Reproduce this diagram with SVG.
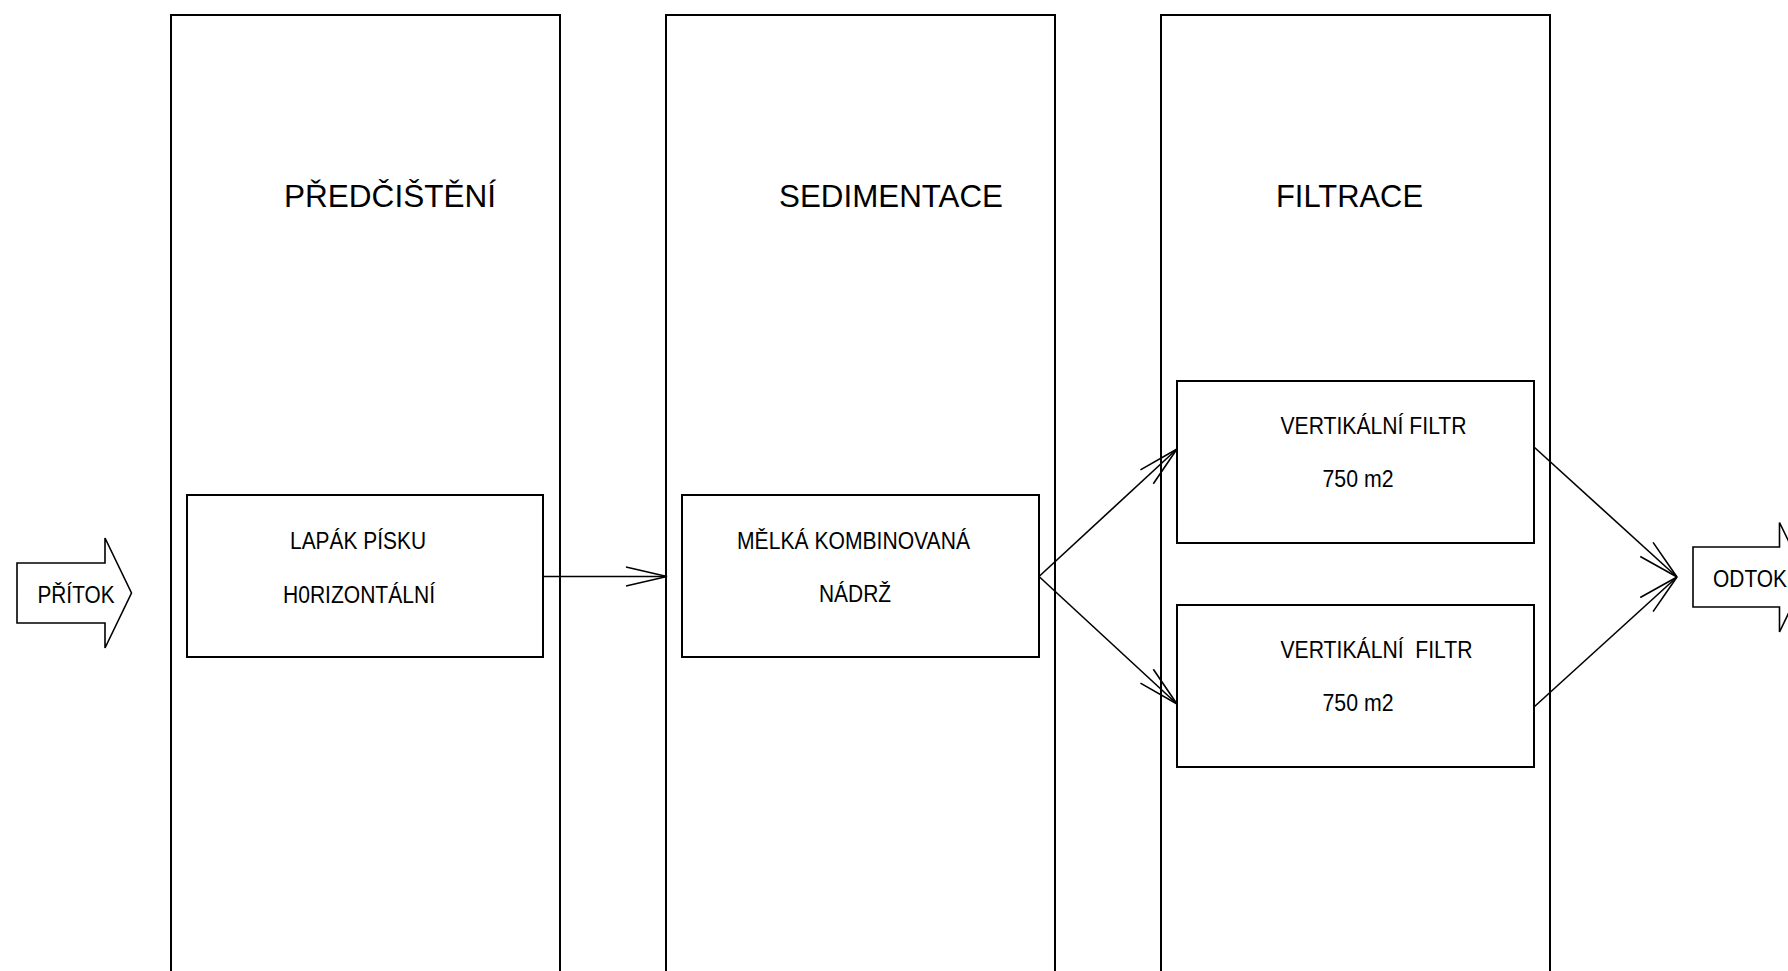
<svg xmlns="http://www.w3.org/2000/svg" width="1788" height="971" viewBox="0 0 1788 971">
<style>
.col{fill:none;stroke:#000;stroke-width:2}
.box{fill:#fff;stroke:#000;stroke-width:2}
.con{fill:none;stroke:#000;stroke-width:1.6}
.big{fill:none;stroke:#000;stroke-width:1.6}
.h{font-family:"Liberation Sans",Arial,sans-serif;font-size:31px;fill:#000}
.t{font-family:"Liberation Sans",Arial,sans-serif;font-size:24.5px;fill:#000}
</style>
<defs>
<marker id="ah" markerUnits="userSpaceOnUse" markerWidth="60" markerHeight="60" viewBox="-50 -25 60 50" refX="0" refY="0" orient="auto" overflow="visible">
<path d="M-41,-9.5 L0,0 L-41,9.5" fill="none" stroke="#000" stroke-width="1.6"/>
</marker>
</defs>
<rect width="1788" height="971" fill="#fff"/>
<g id="col-predcisteni">
<path class="col" d="M171,980 V15 H560 V980"/>
<text class="h" x="284" y="207" textLength="212" lengthAdjust="spacingAndGlyphs">PŘEDČIŠTĚNÍ</text>
</g>
<g id="col-sedimentace">
<path class="col" d="M666,980 V15 H1055 V980"/>
<text class="h" x="779" y="207" textLength="224" lengthAdjust="spacingAndGlyphs">SEDIMENTACE</text>
</g>
<g id="col-filtrace">
<path class="col" d="M1161,980 V15 H1550 V980"/>
<text class="h" x="1276" y="207" textLength="147" lengthAdjust="spacingAndGlyphs">FILTRACE</text>
</g>
<g id="pritok">
<path class="big" d="M17,563 H105 V538 L131.5,593 L105,648 V623 H17 Z"/>
<text class="t" x="37.5" y="603" textLength="77" lengthAdjust="spacingAndGlyphs">PŘÍTOK</text>
</g>
<g id="lapak">
<rect class="box" x="187" y="495" width="356" height="162"/>
<text class="t" x="290" y="549" textLength="136" lengthAdjust="spacingAndGlyphs">LAPÁK PÍSKU</text>
<text class="t" x="283" y="603" textLength="152" lengthAdjust="spacingAndGlyphs">H0RIZONTÁLNÍ</text>
</g>
<g id="nadrz">
<rect class="box" x="682" y="495" width="357" height="162"/>
<text class="t" x="737" y="549" textLength="233" lengthAdjust="spacingAndGlyphs">MĚLKÁ KOMBINOVANÁ</text>
<text class="t" x="819" y="602" textLength="72" lengthAdjust="spacingAndGlyphs">NÁDRŽ</text>
</g>
<g id="filtr1">
<rect class="box" x="1177" y="381" width="357" height="162"/>
<text class="t" x="1280.5" y="434" textLength="186" lengthAdjust="spacingAndGlyphs">VERTIKÁLNÍ FILTR</text>
<text class="t" x="1322.5" y="487" textLength="71" lengthAdjust="spacingAndGlyphs">750 m2</text>
</g>
<g id="filtr2">
<rect class="box" x="1177" y="605" width="357" height="162"/>
<text class="t" x="1280.5" y="658" textLength="192" lengthAdjust="spacingAndGlyphs" xml:space="preserve">VERTIKÁLNÍ  FILTR</text>
<text class="t" x="1322.5" y="711" textLength="71" lengthAdjust="spacingAndGlyphs">750 m2</text>
</g>
<g id="odtok">
<path class="big" d="M1693,547 H1779.5 V522.5 L1806,577 L1779.5,632 V607 H1693 Z"/>
<text class="t" x="1713" y="586.5" textLength="74" lengthAdjust="spacingAndGlyphs">ODTOK</text>
</g>
<g id="connectors">
<line class="con" x1="543" y1="576.5" x2="667" y2="576.5" marker-end="url(#ah)"/>
<line class="con" x1="1039" y1="576.5" x2="1177" y2="449" marker-end="url(#ah)"/>
<line class="con" x1="1039" y1="576.5" x2="1177" y2="704" marker-end="url(#ah)"/>
<line class="con" x1="1534" y1="447" x2="1677" y2="577" marker-end="url(#ah)"/>
<line class="con" x1="1534" y1="707" x2="1677" y2="577" marker-end="url(#ah)"/>
</g>
</svg>
